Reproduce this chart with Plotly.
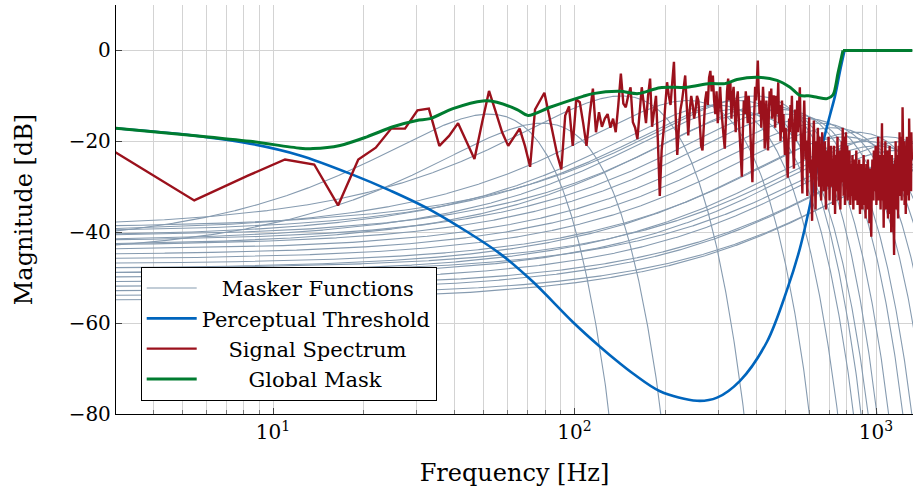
import numpy as np
import plotly.graph_objects as go

# ---------------- data ----------------
BIN_HZ = 2.74  # FFT bin spacing of the signal spectrum

signal_db = [
    -20.8, -33.0, -27.6, -24.0, -25.1, -34.1, -24.0, -21.4, -17.2, -17.2,
    -13.2, -12.8, -21.0, -18.8, -16.0, -20.0, -23.9, -16.0, -8.9, -13.5,
    -18.0, -21.0, -19.0, -17.2, -21.0, -25.6, -13.0, -11.0, -9.3, -14.0,
    -18.5, -23.0, -26.2, -14.3, -12.3, -21.0, -10.8,
    -11.4, -16, -21, -14, -8.4, -18, -13.6, -16.8, -15, -14,
    -17, -15, -18, -12, -5.1, -11.7, -12.5, -10, -8.1, -15.8,
    -17, -19.5, -14, -8.1, -12, -16, -10, -6.2, -16.8, -13,
    -10, -20, -32, -22, -18, -12, -7, -10, -12, -7,
    -2.5, -14, -23, -17, -13, -11, -8, -5.5, -12, -18.7,
    -13, -10, -12, -15, -13, -10, -11, -17, -21, -22,
    -15, -11, -9,
    -12, -6, -4.5, -9, -5.5, -11, -14, -9, -16, -12,
    -8, -13, -17, -19, -21.6, -14, -9, -6.2, -11, -7,
    -15, -10, -8, -13, -18, -11, -9, -15, -20, -24,
    -27.8, -18, -11, -14, -9, -12, -16, -10, -13, -19,
    -24, -29, -20, -13, -8, -11, -6, -2.2, -9, -14,
    -11, -17, -13, -8, -12, -21.6, -16, -11, -19, -22,
    -14, -9, -12, -8.4, -15, -11, -9.9, -13, -17, -10,
    -14, -12, -7, -16, -12, -20, -15, -11, -18, -14,
    -19, -23, -17, -22, -25, -28, -21, -15, -18, -12,
    -16, -10, -19, -24, -26, -17, -13, -20, -15, -11,
    -18, -14, -9, -8.1, -16, -22, -27, -31.5, -20, -15,
    -11, -17, -24, -19.8, -26, -32, -23, -18, -14.7, -21,
    -27, -24, -30, -37.5, -25, -18, -15.4, -22, -28, -35,
    -26, -20, -24, -17, -23, -30, -19, -27, -21, -33,
    -25, -18, -28, -22, -31, -24, -20, -29, -35, -26,
    -22, -30, -25, -19, -27, -33, -24, -29, -21, -26,
    -30, -24, -34, -27, -21, -29, -36, -26, -23, -31,
    -25, -19, -28, -33, -24, -30, -22, -35, -27, -25,
    -20, -29, -17, -24, -32, -19, -27, -34, -23, -18,
    -30, -26, -21, -33, -28, -24, -31, -22, -27, -34,
    -29, -25, -32, -27, -23, -30, -35, -28, -24, -31,
    -26, -33, -29, -22, -30, -27, -34, -25, -31, -28,
    -24, -32, -36, -27, -30, -25, -33, -29, -35, -26,
    -31, -23, -28, -34, -30, -26, -37, -29, -25, -32,
    -28, -35, -24, -30, -33, -27, -38, -31, -26, -29,
    -36, -41, -32, -27, -24, -30, -26, -33, -22, -28,
    -31, -25, -29, -21, -27, -34, -30, -24, -32, -28,
    -19, -26, -33, -29, -23, -31, -27, -35, -25, -30,
    -22, -16, -28, -33, -25, -30, -39, -27, -23, -31,
    -26, -20, -29, -35, -24, -28, -32, -22, -27, -37,
    -30, -25, -33, -28, -21, -31, -36, -26, -29, -40,
    -27, -23, -32, -34, -25, -30, -38, -43, -45, -33,
    -28, -24, -31, -20, -27, -35, -29, -23, -33, -26,
    -30, -37, -25, -21, -28, -32, -18, -26, -30, -24,
    -29, -22, -27, -33, -19, -25, -12.5, -21, -28, -24,
    -31, -26, -20, -34, -27, -23, -30, -36, -25, -22,
    -28, -19, -26, -32, -24, -29, -21, -27, -33, -15,
    -23, -28, -20, -30, -25, -22, -31, -18, -26, -24,
]

threshold_hz = [3.0, 5.43, 8.39, 12.29, 18.0, 24.4, 33.7, 56.6, 72.8,
                98.9, 121.5, 141.6, 156.3, 192.1, 254.9, 296.9, 353.9, 435.0,
                506.8, 559.6, 608.6, 652.2, 698.6, 731.4, 759.8, 786.3]
threshold_db = [-17.1, -18.7, -20.5, -23.1, -27.1, -30.8, -35.3, -44.7, -50.9,
                -59.8, -65.2, -68.9, -71.1, -75.0, -77.1, -76.4, -72.7, -64.1,
                -52.7, -43.5, -33.0, -23.0, -15.0, -10.0, -4.5, 0.0]

mask_hz = [3.0, 5.43, 8.39, 12.29, 13.57, 16.68, 20.5, 25.0, 30.0, 33.2,
           39.5, 49.7, 55.3, 64.5, 70.1, 82.9, 106.7, 115.2, 141.6, 162.4,
           192.1, 236.1, 281.5, 315.6, 345.9, 406.1, 469.4, 518.6, 559.6,
           604.0, 637.3, 687.9, 720.2, 748.0, 777.3]
mask_db = [-17.1, -18.7, -20.0, -21.5, -21.6, -20.9, -19.0, -16.8, -15.4, -15.0,
           -12.8, -11.1, -11.4, -13.0, -14.3, -12.5, -10.1, -9.5, -9.0, -9.5,
           -8.2, -8.1, -7.3, -7.3, -6.4, -5.9, -6.6, -8.1, -9.9,
           -10.0, -10.3, -10.6, -9.8, -5.0, 0.0]
mask_flat_hz = [777.3, 1320.0]
mask_flat_db = [0.0, 0.0]

# masker centre frequencies / peak levels and their spread (dB at f -> 0)
masker_hz = [52, 78, 143, 237, 295, 335, 352, 376, 395, 436, 488, 525, 590,
             650, 720, 790, 860, 930, 1000, 1080, 1160, 1240, 1300, 1380, 1450, 1550]
masker_db = [-14, -16, -10, -11, -12, -13, -11, -14, -10, -12, -13, -14, -15,
             -16, -17, -19, -18, -20, -21, -19, -22, -20, -24, -23, -26, -25]
SPREAD_DB = 29.0

x_ticks = [10, 100, 1000]
x_ticktext = ["10<sup>1</sup>", "10<sup>2</sup>", "10<sup>3</sup>"]
x_minor = [4, 5, 6, 7, 8, 9, 20, 30, 40, 50, 60, 70, 80, 90,
           200, 300, 400, 500, 600, 700, 800, 900]
y_ticks = [-80, -60, -40, -20, 0]
y_ticktext = ["\u221280", "\u221260", "\u221240", "\u221220", "0"]

# legend labels (padded with no-break spaces so the entries look centred)
NB = "\u00a0"
lbl_mask = NB * 3 + "Masker Functions"
lbl_thr = "Perceptual Threshold"
lbl_sig = NB * 4 + "Signal Spectrum"
lbl_glob = NB * 7 + "Global Mask"

# ---------------- styling ----------------
FONT = "DejaVu Serif"
C_MASK = "#869bb0"
C_THR = "#0065BD"
C_SIG = "#9b111c"
C_GLOB = "#007c30"
GRID = "#d3d3d3"

signal_hz = BIN_HZ * np.arange(1, len(signal_db) + 1)
f_grid = np.logspace(np.log10(2.5), np.log10(1400), 1500)

fig = go.Figure()
for i, (fc, lv) in enumerate(zip(masker_hz, masker_db)):
    y = lv - SPREAD_DB * (f_grid / fc - 1.0) ** 2
    y = np.where(y < -140, np.nan, y)
    fig.add_trace(go.Scatter(
        x=f_grid, y=y, mode="lines", line=dict(color=C_MASK, width=1.1),
        name=lbl_mask, legendgroup="mask", showlegend=(i == 0),
        hoverinfo="skip"))

fig.add_trace(go.Scatter(x=threshold_hz, y=threshold_db, mode="lines",
                         line=dict(color=C_THR, width=2.6, shape="spline", smoothing=0.9),
                         name=lbl_thr, legendgroup="thr"))
fig.add_trace(go.Scatter(x=signal_hz, y=signal_db, mode="lines",
                         line=dict(color=C_SIG, width=2.4),
                         name=lbl_sig, legendgroup="sig"))
fig.add_trace(go.Scatter(x=mask_hz, y=mask_db, mode="lines",
                         line=dict(color=C_GLOB, width=3, shape="spline", smoothing=0.8),
                         name=lbl_glob, legendgroup="glob"))
fig.add_trace(go.Scatter(x=mask_flat_hz, y=mask_flat_db, mode="lines",
                         line=dict(color=C_GLOB, width=3),
                         name=lbl_glob, legendgroup="glob", showlegend=False))

fig.update_layout(
    width=913, height=489,
    margin=dict(l=116, r=0, t=5, b=75),
    paper_bgcolor="white", plot_bgcolor="white",
    font=dict(family=FONT, size=20, color="black"),
    showlegend=True,
    legend=dict(x=0.031, y=0.032, xanchor="left", yanchor="bottom",
                bgcolor="white", bordercolor="black", borderwidth=1,
                font=dict(family=FONT, size=21), tracegroupgap=0,
                itemwidth=50, traceorder="grouped"),
    xaxis=dict(type="log", range=[np.log10(3.015), 3.1227],
               tickmode="array", tickvals=x_ticks, ticktext=x_ticktext,
               showgrid=True, gridcolor=GRID, gridwidth=1,
               ticks="inside", ticklen=6, tickcolor="#444",
               showline=True, linecolor="black", linewidth=1.3,
               zeroline=False,
               minor=dict(tickvals=x_minor, showgrid=True, gridcolor=GRID,
                          gridwidth=1, ticks="inside", ticklen=4, tickcolor="#777"),
               title=dict(text="Frequency [Hz]", standoff=21),
               tickfont=dict(size=20)),
    yaxis=dict(range=[-80, 10], tickmode="array", tickvals=y_ticks, ticktext=y_ticktext,
               showgrid=True, gridcolor=GRID, gridwidth=1,
               ticks="inside", ticklen=6, tickcolor="#444",
               showline=True, linecolor="black", linewidth=1.3,
               zeroline=False,
               title=dict(text="Magnitude [dB]", standoff=29),
               tickfont=dict(size=20)),
)

fig.write_html("out.html")
